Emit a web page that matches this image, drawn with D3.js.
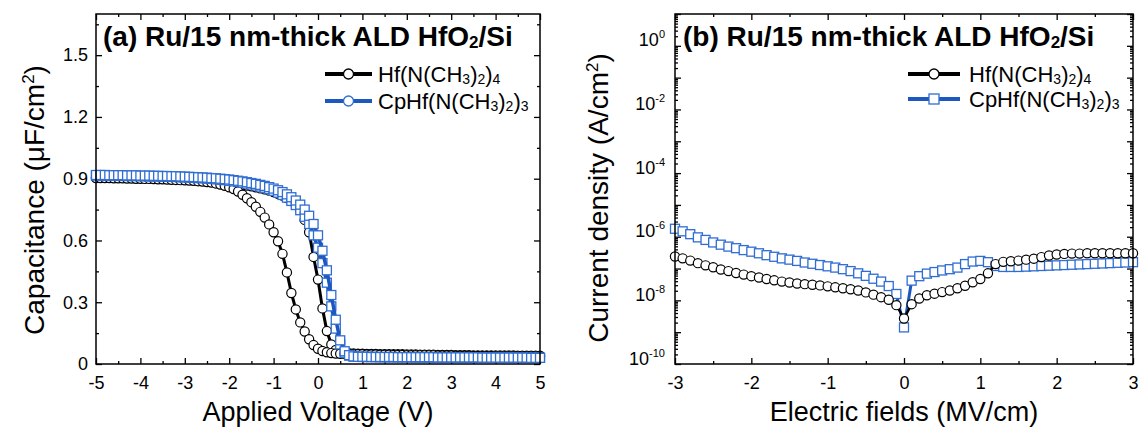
<!DOCTYPE html>
<html>
<head>
<meta charset="utf-8">
<script src="https://cdn.jsdelivr.net/npm/d3@7/dist/d3.min.js"></script>
<style>
  body { margin: 0; background: #fff; }
  svg { display: block; }
</style>
</head>
<body>
<svg id="chart" width="1142" height="432"></svg>
<script>
// ---- data (a): C-V sweeps, V = -5 .. 5 V in 0.1 V steps ----
var voltage = d3.range(-50, 51).map(function(i) { return i / 10; });

var hfReverse = [
  .903,.903,.903,.903,.902,.902,.902,.901,.901,.900,
  .900,.899,.899,.898,.897,.897,.896,.895,.894,.893,
  .892,.891,.890,.888,.886,.884,.881,.877,.872,.866,
  .858,.850,.838,.822,.805,.786,.764,.739,.711,.678,
  .640,.596,.535,.445,.345,.265,.202,.158,.120,.092,
  .074,.063,.057,.053,.051,.050,.049,.048,.048,.047,
  .047,.046,.046,.046,.045,.045,.045,.044,.044,.044,
  .043,.043,.043,.042,.042,.042,.042,.041,.041,.041,
  .041,.040,.040,.040,.040,.039,.039,.039,.039,.039,
  .038,.038,.038,.038,.038,.037,.037,.037,.037,.037,
  .036];
var hfForward = [
  .906,.906,.906,.905,.905,.905,.905,.904,.904,.904,
  .903,.903,.903,.902,.902,.901,.901,.900,.900,.899,
  .898,.897,.896,.895,.894,.892,.890,.888,.886,.884,
  .881,.878,.875,.871,.867,.863,.858,.853,.848,.842,
  .835,.827,.818,.806,.792,.774,.750,.700,.640,.520,
  .410,.270,.160,.095,.068,.058,.054,.052,.051,.050,
  .050,.049,.049,.049,.048,.048,.048,.047,.047,.047,
  .046,.046,.046,.045,.045,.045,.045,.044,.044,.044,
  .044,.043,.043,.043,.043,.042,.042,.042,.042,.042,
  .041,.041,.041,.041,.041,.040,.040,.040,.040,.040,
  .040];
var cpReverse = [
  .915,.915,.915,.915,.914,.914,.914,.913,.913,.913,
  .912,.912,.911,.911,.910,.910,.909,.909,.908,.907,
  .906,.905,.904,.903,.902,.900,.899,.897,.895,.893,
  .890,.887,.884,.880,.876,.872,.867,.862,.856,.849,
  .841,.832,.821,.808,.792,.772,.747,.715,.680,.625,
  .565,.490,.395,.280,.172,.095,.055,.041,.036,.035,
  .034,.034,.034,.034,.033,.033,.033,.033,.033,.033,
  .033,.033,.032,.032,.032,.032,.032,.032,.032,.032,
  .032,.032,.032,.031,.031,.031,.031,.031,.031,.031,
  .031,.031,.031,.031,.031,.031,.030,.030,.030,.030,
  .030];
var cpForward = [
  .918,.918,.918,.917,.917,.917,.917,.916,.916,.916,
  .915,.915,.915,.914,.914,.913,.913,.912,.912,.911,
  .910,.909,.908,.907,.906,.905,.903,.902,.900,.898,
  .896,.893,.890,.887,.883,.879,.875,.870,.865,.859,
  .852,.844,.835,.824,.810,.794,.774,.750,.720,.680,
  .625,.550,.455,.335,.215,.115,.062,.043,.037,.035,
  .035,.035,.034,.034,.034,.034,.034,.034,.033,.033,
  .033,.033,.033,.033,.033,.033,.033,.032,.032,.032,
  .032,.032,.032,.032,.032,.032,.032,.031,.031,.031,
  .031,.031,.031,.031,.031,.031,.031,.031,.030,.030,
  .030];

// ---- data (b): J-E, E = -3 .. 3 MV/cm in 0.1 steps, values are log10(J) ----
var field = d3.range(-30, 31).map(function(i) { return i / 10; });

var hfLogJ = [
  -6.62,-6.68,-6.75,-6.83,-6.90,-6.96,-7.03,-7.08,-7.14,-7.19,
  -7.24,-7.28,-7.33,-7.37,-7.41,-7.44,-7.47,-7.49,-7.51,-7.53,
  -7.56,-7.59,-7.62,-7.65,-7.69,-7.75,-7.82,-7.90,-7.98,-8.15,
  -8.57,
  -8.12,-7.94,-7.84,-7.79,-7.74,-7.69,-7.62,-7.54,-7.43,-7.33,
  -7.15,-6.86,-6.79,-6.77,-6.75,-6.72,-6.69,-6.64,-6.59,-6.56,
  -6.54,-6.53,-6.53,-6.52,-6.52,-6.52,-6.52,-6.52,-6.52,-6.52];
var cpLogJ = [
  -5.75,-5.83,-5.92,-6.02,-6.10,-6.18,-6.25,-6.31,-6.36,-6.42,
  -6.47,-6.52,-6.58,-6.63,-6.68,-6.72,-6.76,-6.81,-6.85,-6.89,
  -6.93,-6.97,-7.02,-7.08,-7.15,-7.23,-7.32,-7.41,-7.55,-7.80,
  -8.85,
  -7.38,-7.24,-7.16,-7.11,-7.06,-7.02,-6.97,-6.86,-6.78,-6.76,
  -6.80,-6.92,-6.95,-6.95,-6.95,-6.94,-6.93,-6.92,-6.91,-6.90,
  -6.89,-6.88,-6.87,-6.86,-6.85,-6.84,-6.83,-6.82,-6.81,-6.80];

// tick values
var vMajor = [-5,-4,-3,-2,-1,0,1,2,3,4,5];
var vMinor = [-4.5,-3.5,-2.5,-1.5,-0.5,0.5,1.5,2.5,3.5,4.5];
var cMajor = [0, 0.3, 0.6, 0.9, 1.2, 1.5];
var cMinor = [0.15, 0.45, 0.75, 1.05, 1.35, 1.65];
var eMajor = [-3,-2,-1,0,1,2,3];
var eMinor = [-2.5,-1.5,-0.5,0.5,1.5,2.5];
var jLabelled = [1e-10, 1e-8, 1e-6, 1e-4, 1e-2, 1];
var jDecades = [1e-9, 1e-7, 1e-5, 1e-3, 1e-1, 10];

var FONT = "'Liberation Sans', Arial, sans-serif";
var BLUE = "#1d58c0", SQ = "#2f6dd2";

var svg = d3.select("#chart").attr("font-family", FONT);

// plain hyphen, as in the original figure
function plain(d) { return String(d); }

// text with subscript / superscript pieces
function rich(sel, parts, small, shift) {
  var cur = 0;
  parts.forEach(function(p) {
    var target = p[1] === "sub" ? shift : p[1] === "sup" ? -shift * 1.6 : 0;
    var t = sel.append("tspan").text(p[0]).attr("dy", target - cur);
    if (p[1]) t.attr("font-size", small);
    cur = target;
  });
}

function axisSet(g, axis, tr, vals, len, pad, fmt) {
  var a = axis.tickValues(vals).tickSizeInner(-len).tickSizeOuter(0)
      .tickPadding(pad).tickFormat(fmt || "");
  var s = g.append("g").attr("transform", tr).call(a)
      .attr("font-family", FONT).attr("font-size", 18);
  s.select(".domain").remove();
  s.selectAll(".tick line").attr("stroke", "#000").attr("stroke-width", 1.3);
  s.selectAll(".tick text").attr("fill", "#000");
  return s;
}

// ================= panel (a) =================
var xa = d3.scaleLinear().domain([-5, 5]).range([96, 540]);
var ya = d3.scaleLinear().domain([0, 1.7]).range([364, 14]);
var ga = svg.append("g");

axisSet(ga, d3.axisBottom(xa), "translate(0,364)", vMajor, 6, 12, plain);
axisSet(ga, d3.axisBottom(xa), "translate(0,364)", vMinor, 3, 0);
axisSet(ga, d3.axisTop(xa), "translate(0,14)", vMajor, 6, 0);
axisSet(ga, d3.axisTop(xa), "translate(0,14)", vMinor, 3, 0);
axisSet(ga, d3.axisLeft(ya), "translate(96,0)", cMajor, 6, 8, function(d) { return d === 0 ? "0" : d.toFixed(1); });
axisSet(ga, d3.axisLeft(ya), "translate(96,0)", cMinor, 3, 0);
axisSet(ga, d3.axisRight(ya), "translate(540,0)", cMajor, 6, 0);
axisSet(ga, d3.axisRight(ya), "translate(540,0)", cMinor, 3, 0);

var lineA = d3.line().x(function(d) { return xa(d[0]); }).y(function(d) { return ya(d[1]); });

function seriesA(vals, color, lw) {
  var pts = voltage.map(function(v, i) { return [v, vals[i]]; });
  ga.append("path").datum(pts).attr("d", lineA).attr("fill", "none")
    .attr("stroke", color).attr("stroke-width", lw);
  return pts;
}
function markers(g, pts, xs, ys, shape) {
  if (shape === "circle") {
    g.append("g").selectAll("circle").data(pts).enter().append("circle")
      .attr("cx", function(d) { return xs(d[0]); }).attr("cy", function(d) { return ys(d[1]); })
      .attr("r", 4.6).attr("fill", "#fff").attr("stroke", "#000").attr("stroke-width", 1.2);
  } else {
    g.append("g").selectAll("rect").data(pts).enter().append("rect")
      .attr("x", function(d) { return xs(d[0]) - 4.5; }).attr("y", function(d) { return ys(d[1]) - 4.5; })
      .attr("width", 9).attr("height", 9).attr("fill", "#fff").attr("stroke", SQ).attr("stroke-width", 1.3);
  }
}

var p1 = seriesA(hfForward, "#000", 3);
markers(ga, p1, xa, ya, "circle");
var p2 = seriesA(hfReverse, "#000", 3);
markers(ga, p2, xa, ya, "circle");
var p3 = seriesA(cpReverse, BLUE, 3.5);
markers(ga, p3, xa, ya, "square");
var p4 = seriesA(cpForward, BLUE, 3.5);
markers(ga, p4, xa, ya, "square");

ga.append("rect").attr("x", 96).attr("y", 14).attr("width", 444).attr("height", 350)
  .attr("fill", "none").attr("stroke", "#000").attr("stroke-width", 1.5);

// title and legend (a)
rich(ga.append("text").attr("x", 103).attr("y", 46).attr("font-size", 28).attr("font-weight", "bold"),
  [["(a) Ru/15 nm-thick ALD HfO"], ["2", "sub"], ["/Si"]], 17, 2);

var legendA = [
  {label: [["Hf(N(CH"], ["3", "sub"], [")"], ["2", "sub"], [")"], ["4", "sub"]], color: "#000", y: 74},
  {label: [["CpHf(N(CH"], ["3", "sub"], [")"], ["2", "sub"], [")"], ["3", "sub"]], color: BLUE, y: 101}
];
legendA.forEach(function(l) {
  ga.append("line").attr("x1", 325).attr("x2", 372).attr("y1", l.y).attr("y2", l.y)
    .attr("stroke", l.color).attr("stroke-width", 4);
  ga.append("circle").attr("cx", 348.5).attr("cy", l.y).attr("r", 5).attr("fill", "#fff")
    .attr("stroke", l.color === "#000" ? "#000" : SQ).attr("stroke-width", 1.3);
  rich(ga.append("text").attr("x", 378).attr("y", l.y + 8).attr("font-size", 22), l.label, 14, 2);
});

// axis titles (a)
ga.append("text").attr("x", 318).attr("y", 421).attr("text-anchor", "middle")
  .attr("font-size", 27).text("Applied Voltage (V)");
rich(ga.append("text").attr("transform", "translate(44,200) rotate(-90)").attr("text-anchor", "middle")
  .attr("font-size", 28), [["Capacitance (\u03bcF/cm"], ["2", "sup"], [")"]], 17, 6);

// ================= panel (b) =================
var xb = d3.scaleLinear().domain([-3, 3]).range([675, 1133]);
var yb = d3.scaleLog().domain([1e-10, 10]).range([364, 14]);
var gb = svg.append("g");

var jMinor = [];
d3.range(-10, 1).forEach(function(e) {
  [2,3,4,5,6,7,8,9].forEach(function(k) { jMinor.push(k * Math.pow(10, e)); });
});

axisSet(gb, d3.axisBottom(xb), "translate(0,364)", eMajor, 6, 12, plain);
axisSet(gb, d3.axisBottom(xb), "translate(0,364)", eMinor, 3, 0);
axisSet(gb, d3.axisTop(xb), "translate(0,14)", eMajor, 6, 0);
axisSet(gb, d3.axisTop(xb), "translate(0,14)", eMinor, 3, 0);
var yl = axisSet(gb, d3.axisLeft(yb), "translate(675,0)", jLabelled, 6, 10, function(d) { return "x"; });
yl.selectAll(".tick text").each(function(d) {
  var t = d3.select(this).text(null);
  var e = Math.round(Math.log10(d));
  rich(t, [["10"], [String(e), "sup"]], 11, 5);
});
axisSet(gb, d3.axisLeft(yb), "translate(675,0)", jDecades, 6, 0);
axisSet(gb, d3.axisLeft(yb), "translate(675,0)", jMinor, 3, 0);
axisSet(gb, d3.axisRight(yb), "translate(1133,0)", jLabelled.concat(jDecades), 6, 0);
axisSet(gb, d3.axisRight(yb), "translate(1133,0)", jMinor, 3, 0);

var lineB = d3.line().x(function(d) { return xb(d[0]); }).y(function(d) { return yb(d[1]); });
function seriesB(logs, color, lw) {
  var pts = field.map(function(e, i) { return [e, Math.pow(10, logs[i])]; });
  gb.append("path").datum(pts).attr("d", lineB).attr("fill", "none")
    .attr("stroke", color).attr("stroke-width", lw);
  return pts;
}
var q1 = seriesB(cpLogJ, BLUE, 3);
markers(gb, q1, xb, yb, "square");
var q2 = seriesB(hfLogJ, "#000", 2.5);
markers(gb, q2, xb, yb, "circle");

gb.append("rect").attr("x", 675).attr("y", 14).attr("width", 458).attr("height", 350)
  .attr("fill", "none").attr("stroke", "#000").attr("stroke-width", 1.5);

rich(gb.append("text").attr("x", 683).attr("y", 46).attr("font-size", 28).attr("font-weight", "bold"),
  [["(b) Ru/15 nm-thick ALD HfO"], ["2", "sub"], ["/Si"]], 17, 2);

var legendB = [
  {label: legendA[0].label, color: "#000", y: 74, shape: "circle"},
  {label: legendA[1].label, color: BLUE, y: 99, shape: "square"}
];
legendB.forEach(function(l) {
  gb.append("line").attr("x1", 908).attr("x2", 960).attr("y1", l.y).attr("y2", l.y)
    .attr("stroke", l.color).attr("stroke-width", 4);
  if (l.shape === "circle") {
    gb.append("circle").attr("cx", 934).attr("cy", l.y).attr("r", 5).attr("fill", "#fff")
      .attr("stroke", "#000").attr("stroke-width", 1.3);
  } else {
    gb.append("rect").attr("x", 929).attr("y", l.y - 5).attr("width", 10).attr("height", 10)
      .attr("fill", "#fff").attr("stroke", SQ).attr("stroke-width", 1.3);
  }
  rich(gb.append("text").attr("x", 969).attr("y", l.y + 8).attr("font-size", 22), l.label, 14, 2);
});

gb.append("text").attr("x", 904).attr("y", 421).attr("text-anchor", "middle")
  .attr("font-size", 27).text("Electric fields (MV/cm)");
rich(gb.append("text").attr("transform", "translate(608,198) rotate(-90)").attr("text-anchor", "middle")
  .attr("font-size", 28), [["Current density (A/cm"], ["2", "sup"], [")"]], 17, 6);
</script>
</body>
</html>
